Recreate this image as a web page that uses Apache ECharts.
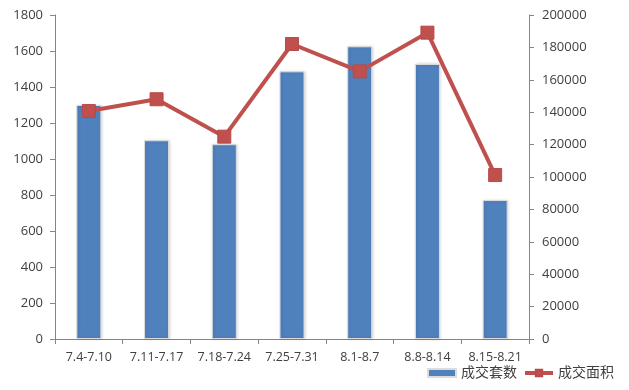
<!DOCTYPE html>
<html><head><meta charset="utf-8">
<script src="https://cdn.jsdelivr.net/npm/echarts@6/dist/echarts.min.js"></script>
<style>html,body{margin:0;padding:0;background:#fff}#c{width:629px;height:390px}</style>
</head><body><div id="c"></div>
<script>
var categories = ['7.4-7.10','7.11-7.17','7.18-7.24','7.25-7.31','8.1-8.7','8.8-8.14','8.15-8.21'];
var unitsSold = [1300, 1104, 1082, 1487, 1626, 1528, 772];
var areaSold = [140700, 148000, 124900, 182100, 165200, 189100, 101200];
var seriesNames = ['成交套数', '成交面积'];

var font = 'Open Sans, "Noto Sans CJK SC", sans-serif';
var plain = function (v) { return String(v); };
var chart = echarts.init(document.getElementById('c'));
chart.setOption({
  animation: false,
  backgroundColor: '#fff',
  grid: {left: 55, right: 100, top: 15, bottom: 51},
  legend: {
    right: 10, bottom: 5, itemGap: 6, itemWidth: 28, itemHeight: 8,
    textStyle: {fontFamily: font, fontSize: 14, color: '#404040'},
    data: [{name: seriesNames[0], icon: 'rect'},
           {name: seriesNames[1], lineStyle: {width: 4}}]
  },
  xAxis: {
    type: 'category', data: categories,
    axisLine: {lineStyle: {color: '#868686'}},
    axisTick: {show: true, length: 5, lineStyle: {color: '#868686'}},
    axisLabel: {fontFamily: font, fontSize: 12.5, color: '#404040', margin: 12, interval: 0}
  },
  yAxis: [{
    type: 'value', min: 0, max: 1800, interval: 200,
    axisLine: {show: true, lineStyle: {color: '#868686'}},
    axisTick: {show: true, length: 5, lineStyle: {color: '#868686'}},
    splitLine: {show: false},
    axisLabel: {fontFamily: font, fontSize: 13, color: '#404040', margin: 12, formatter: plain}
  }, {
    type: 'value', min: 0, max: 200000, interval: 20000,
    axisLine: {show: true, lineStyle: {color: '#868686'}},
    axisTick: {show: true, length: 5, lineStyle: {color: '#868686'}},
    splitLine: {show: false},
    axisLabel: {fontFamily: font, fontSize: 13, color: '#404040', margin: 13, formatter: plain}
  }],
  series: [{
    name: seriesNames[0], type: 'bar', data: unitsSold, barWidth: 25,
    itemStyle: {color: '#4F81BD', borderColor: '#dcdcdc', borderWidth: 1,
      shadowColor: 'rgba(0,0,0,0.15)', shadowBlur: 3, shadowOffsetX: 1}
  }, {
    name: seriesNames[1], type: 'line', yAxisIndex: 1, data: areaSold,
    symbol: 'rect', symbolSize: 13,
    lineStyle: {color: '#C0504D', width: 4},
    itemStyle: {color: '#C0504D', borderColor: '#B84A47', borderWidth: 1}
  }]
});
</script></body></html>
